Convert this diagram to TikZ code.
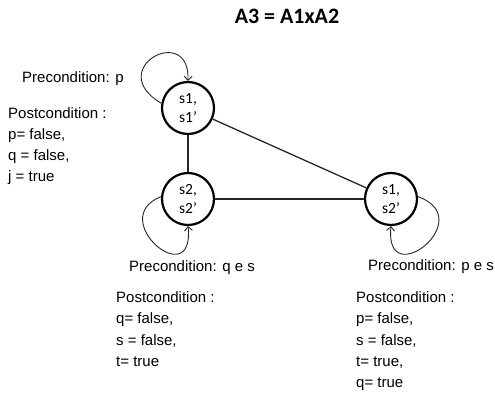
\documentclass[tikz,border=0pt]{standalone}
\usepackage{fontspec}
\setmainfont{Liberation Sans}
\newfontfamily\statefont{Carlito}
\usetikzlibrary{arrows.meta}
\tikzset{
	statenode/.style={circle,draw,line width=2.2pt,minimum size=52pt,inner sep=0pt,align=center,font=\statefont\fontsize{15.5}{19}\selectfont},
	condtext/.style={inner sep=0pt,align=left,font=\fontsize{15}{21.3}\selectfont},
	edge/.style={line width=1.3pt,black!85},
	selfloop/.style={line width=0.9pt,black!85,->}
}
\begin{document}
\begin{tikzpicture}[>={Straight Barb[length=4pt,width=8pt]},x=1pt,y=1pt]
		\useasboundingbox (0,0) rectangle (495,394);
		\node[font=\statefont\bfseries\fontsize{22}{26}\selectfont] (title) at (287,378) {A3 = A1xA2};
		% states
		\node[statenode] (s11) at (188,286) {s1,\\s1’};
		\node[statenode] (s22) at (188,195) {s2,\\s2’};
		\node[statenode] (s12) at (391,195) {s1,\\s2’};
		\draw[edge] (s11) -- (s22);
		\draw[edge] (s22) -- (s12);
		\draw[edge] (s11) -- (s12);
		% self loops
		\draw[selfloop] (s11.170) .. controls (103,325) and (190,372) .. (s11.north);
		\draw[selfloop] (s22.175) .. controls (105,175) and (195,100) .. (s22.south);
		\draw[selfloop] (s12.5) .. controls (480,175) and (384,100) .. (s12.south);
		% conditions
		\node[condtext,anchor=west] (pre11) at (22,315) {Precondition: p};
		\node[condtext,anchor=north west] (post11) at (8,287) {Postcondition :\\p= false,\\q = false,\\j = true};
		\node[condtext,anchor=west] (pre22) at (129,126) {Precondition: q e s};
		\node[condtext,anchor=north west] (post22) at (116,102.5) {Postcondition :\\q= false,\\s = false,\\t= true};
		\node[condtext,anchor=west] (pre12) at (368,127) {Precondition: p e s};
		\node[condtext,anchor=north west] (post12) at (356,102.5) {Postcondition :\\p= false,\\s = false,\\t= true,\\q= true};
\end{tikzpicture}
\end{document}
